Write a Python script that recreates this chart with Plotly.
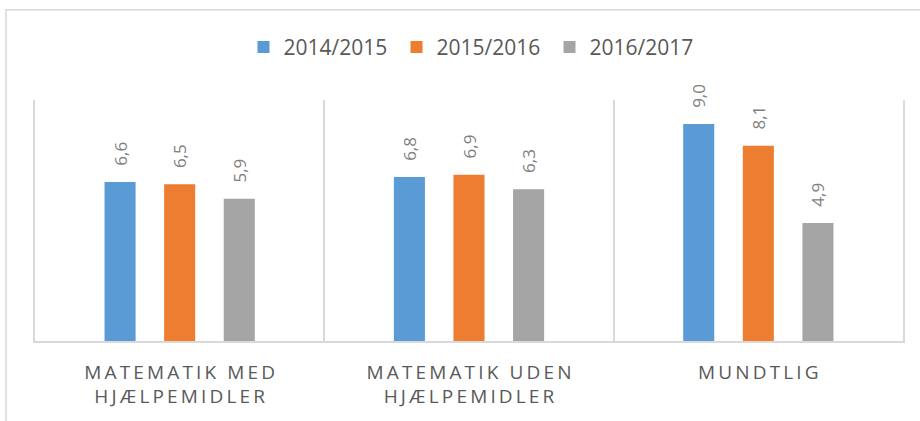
import plotly.graph_objects as go

# ---- data ----
categories = ["Matematik med hjælpemidler", "Matematik uden hjælpemidler", "Mundtlig"]
tick_labels = ["MATEMATIK MED<br>HJÆLPEMIDLER", "MATEMATIK UDEN<br>HJÆLPEMIDLER", "MUNDTLIG"]
series_names = ["2014/2015", "2015/2016", "2016/2017"]
values_2014_2015 = [6.6, 6.8, 9.0]
values_2015_2016 = [6.5, 6.9, 8.1]
values_2016_2017 = [5.9, 6.3, 4.9]
series_values = [values_2014_2015, values_2015_2016, values_2016_2017]
colors = ["#5B9BD5", "#ED7D31", "#A5A5A5"]


def spaced(label):
    out = []
    for line in label.split("<br>"):
        out.append("\u2009".join("\u00a0" if ch == " " else ch for ch in line))
    return "<br>".join(out)


def fmt(v):
    return "\u00a0\u00a0\u00a0" + f"{v:.1f}".replace(".", ",")


fig = go.Figure()
for name, vals, col in zip(series_names, series_values, colors):
    fig.add_trace(go.Bar(
        x=categories, y=vals, name=name,
        marker=dict(color=col, line=dict(width=0)),
        text=[fmt(v) for v in vals],
        textposition="outside", textangle=-90,
        textfont=dict(family="Open Sans", size=17, color="#7F7F7F"),
        constraintext="none", cliponaxis=False,
        hoverinfo="skip",
    ))

W, H = 920, 421
L, R, T, B = 35, 17, 100, 78
pw, ph = W - L - R, H - T - B

def px_x(px):
    return (px - L) / pw

def px_y(py):
    return (H - B - py) / ph

fig.update_layout(
    width=W, height=H,
    margin=dict(l=L, r=R, t=T, b=B),
    paper_bgcolor="white", plot_bgcolor="white",
    barmode="group", bargap=0.382, bargroupgap=0.479,
    font=dict(family="Open Sans", color="#595959"),
    showlegend=True,
    legend=dict(
        orientation="h", x=px_x(473), xanchor="center", y=px_y(47), yanchor="middle",
        font=dict(family="Open Sans", size=21, color="#595959"),
        itemwidth=30, traceorder="normal",
        entrywidth=108, entrywidthmode="pixels",
    ),
    xaxis=dict(
        tickmode="array", tickvals=categories, ticktext=[spaced(t) for t in tick_labels],
        tickson="boundaries", showgrid=True, gridcolor="#D9D9D9", gridwidth=1.5,
        showline=True, linecolor="#D9D9D9", linewidth=1.5,
        ticks="", ticklabelstandoff=13,
        tickfont=dict(family="Open Sans", size=19, color="#595959"),
        fixedrange=True,
    ),
    yaxis=dict(
        range=[0, 10], showticklabels=False, showgrid=False, zeroline=False,
        showline=True, mirror=True, linecolor="#D9D9D9", linewidth=1.5,
        ticks="", fixedrange=True,
    ),
    shapes=[dict(
        type="rect", xref="paper", yref="paper",
        x0=px_x(6), x1=px_x(930), y0=px_y(430), y1=px_y(9),
        line=dict(color="#D9D9D9", width=1.5), fillcolor="rgba(0,0,0,0)", layer="below",
    )],
)

fig.write_html(
    "out.html",
    config={"displayModeBar": False},
    post_script="document.body.style.margin='0';document.body.style.overflow='hidden';",
)
